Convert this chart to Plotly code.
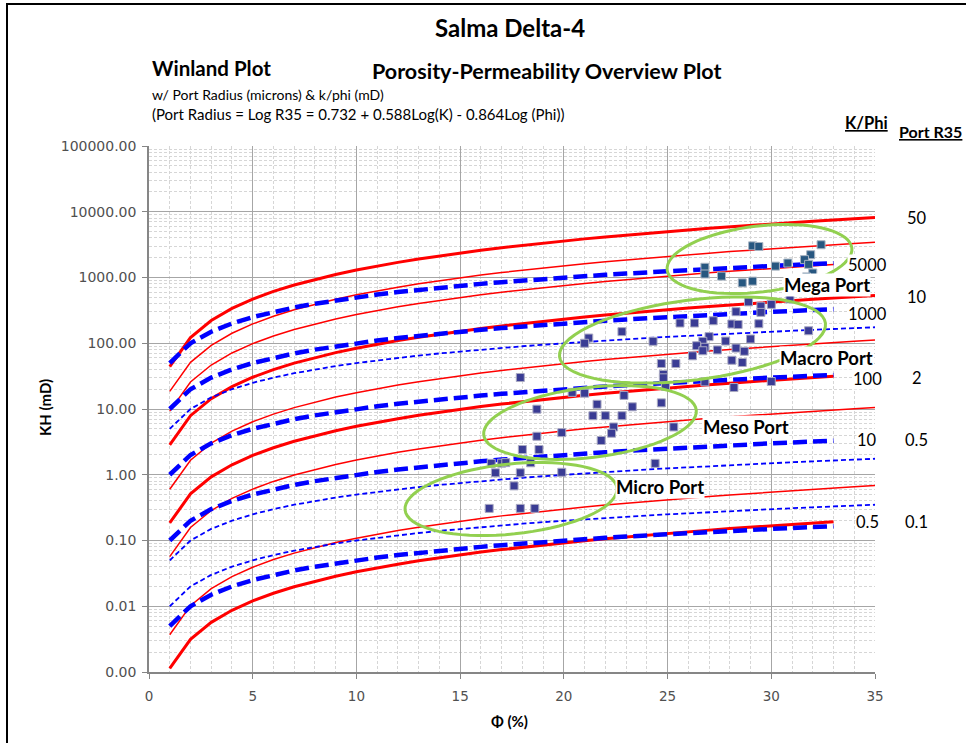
import math
import plotly.graph_objects as go

# ---------------------------------------------------------------------------
# Porosity grid (%) on which the reference lines are evaluated
phi_grid = list(range(1, 36))

# Winland R35 port-radius lines (microns)
r35_values = [50, 30, 20, 10, 4, 2, 1, 0.2, 0.1]
r35_widths = [3, 1.5, 1.5, 3, 1.5, 3, 1.5, 1.5, 3]
r35_phi_max = [35, 35, 33, 35, 35, 33, 35, 35, 33]

# k/phi lines (mD per unit fractional porosity)
kphi_values = [5000, 1000, 500, 100, 10, 5, 1, 0.5]
kphi_thick = [True, True, False, True, True, False, False, True]
kphi_phi_max = [33, 33, 35, 33, 33, 35, 35, 33]

# Core samples - Mega Port group
mega_phi = [29.1, 29.4, 32.4, 31.9, 31.6, 31.8, 30.8, 30.2, 26.8, 26.8,
            27.6, 28.6, 29.1, 32.0, 31.7]
mega_k = [3030, 2960, 3150, 2220, 1870, 1585, 1660, 1490, 1430, 1130,
          1050, 828, 881, 1170, 1020]

# Core samples - remaining plugs
core_phi = [30.9, 28.9, 30.0, 29.5, 29.5, 28.3, 25.6, 26.3, 27.2, 28.1,
            28.4, 29.4, 22.8, 21.2, 21.0, 24.3, 27.0, 26.7, 26.4, 26.8,
            27.8, 29.0, 31.8, 26.7, 27.4, 28.3, 28.7, 26.2, 28.1, 28.6,
            24.7, 25.4, 24.8, 24.8, 24.9, 26.8, 30.0, 28.2, 20.4, 21.0,
            21.6, 22.9, 23.3, 24.7, 21.4, 22.0, 22.8, 22.4, 22.3, 25.3,
            19.9, 21.8, 24.4, 19.9, 17.9, 18.7, 18.7, 18.0, 18.8, 18.4,
            16.5, 17.0, 17.2, 16.7, 17.9, 17.6, 16.4, 17.9, 18.6]
core_k = [472, 426, 390, 366, 295, 302, 203, 203, 220, 196,
          193, 198, 150, 120, 100, 107, 126, 107, 91.6, 86.9,
          108, 116, 155, 76.9, 79.1, 84.5, 75.5, 64.4, 55.1, 51.0,
          49.1, 49.1, 33.6, 29.8, 22.1, 25.9, 26.2, 21.2, 17.9, 17.4,
          11.8, 16.1, 10.8, 12.4, 7.9, 7.9, 7.9, 5.33, 4.28, 5.33,
          4.37, 3.32, 1.49, 1.09, 30.1, 9.93, 3.85, 2.42, 2.42, 1.52,
          1.49, 1.50, 1.53, 1.07, 1.07, 0.677, 0.308, 0.308, 0.308]

# Axis tick labels
x_ticks = [0, 5, 10, 15, 20, 25, 30, 35]
y_ticks = [0.001, 0.01, 0.1, 1, 10, 100, 1000, 10000, 100000]
y_tick_text = ["0.00", "0.01", "0.10", "1.00", "10.00", "100.00",
               "1000.00", "10000.00", "100000.00"]

# Line annotations on the right-hand side
kphi_labels = ["5000", "1000", "100", "10", "0.5"]
r35_labels = ["50", "10", "2", "0.5", "0.1"]
# ---------------------------------------------------------------------------

W_FIG, H_FIG = 966, 743
ML, MR, MT, MB = 149, 91, 146, 71
PW, PH = W_FIG - ML - MR, H_FIG - MT - MB


def px(x):
    return (x - ML) / PW


def py(y):
    return (H_FIG - MB - y) / PH


def winland_k(r35, phi):
    # Log R35 = 0.732 + 0.588 Log(K) - 0.864 Log(Phi)
    return 10 ** ((math.log10(r35) - 0.732 + 0.864 * math.log10(phi)) / 0.588)


TEXT_FONT = "Lato"
TICK_FONT = "DejaVu Sans"

fig = go.Figure()

for v, w, pmax in zip(r35_values, r35_widths, r35_phi_max):
    xs = [p for p in phi_grid if p <= pmax]
    fig.add_trace(go.Scatter(
        x=xs, y=[winland_k(v, p) for p in xs], mode="lines",
        line=dict(color="#ff0000", width=w), hoverinfo="skip",
        name=f"R35 = {v}"))

for v, thick, pmax in zip(kphi_values, kphi_thick, kphi_phi_max):
    xs = [p for p in phi_grid if p <= pmax]
    fig.add_trace(go.Scatter(
        x=xs, y=[v * p / 100 for p in xs], mode="lines",
        line=dict(color="#0000ff", width=4.5 if thick else 1.8,
                  dash="14px,6px" if thick else "5px,3px"),
        hoverinfo="skip", name=f"k/phi = {v}"))

fig.add_trace(go.Scatter(
    x=core_phi, y=core_k, mode="markers", name="Core",
    marker=dict(symbol="square", size=8, color="#3a3c94",
                line=dict(color="#a9a9c2", width=1))))
fig.add_trace(go.Scatter(
    x=mega_phi, y=mega_k, mode="markers", name="Mega",
    marker=dict(symbol="square", size=8, color="#275780",
                line=dict(color="#a9b4c2", width=1))))

shapes = []

# chart frame (left and top edges visible)
shapes.append(dict(type="rect", xref="paper", yref="paper",
                   x0=px(7), x1=px(975), y0=py(752), y1=py(4),
                   line=dict(color="black", width=2), layer="below"))


def ellipse_path(cx, cy, a, b, ang_deg, n=72):
    t = math.radians(ang_deg)
    pts = []
    for i in range(n):
        s = 2 * math.pi * i / n
        ex, ey = a * math.cos(s), b * math.sin(s)
        x = cx + ex * math.cos(t) - ey * math.sin(t)
        y = cy + ex * math.sin(t) + ey * math.cos(t)
        pts.append((px(x), py(y)))
    return "M " + " L ".join(f"{x:.5f},{y:.5f}" for x, y in pts) + " Z"


# rock-type envelopes (centre, semi-axes in pixels, tilt)
for cx, cy, a, b, ang in [(759.5, 259, 93, 33, -6.8),
                          (692.5, 340, 134, 40, -7.2),
                          (590, 422.5, 107, 35, -6.7),
                          (511, 499, 106.5, 35, -5.9)]:
    shapes.append(dict(type="path", xref="paper", yref="paper",
                       path=ellipse_path(cx, cy, a, b, ang),
                       line=dict(color="#92d050", width=3), layer="above"))

ann = []


def text(x, y, s, size, bold=False, color="black", bg=None, xanchor="center",
         underline=False, angle=0, font=TEXT_FONT):
    if bold:
        s = f"<b>{s}</b>"
    if underline:
        s = f"<u>{s}</u>"
    d = dict(x=px(x), y=py(y), xref="paper", yref="paper", text=s,
             showarrow=False, xanchor=xanchor, yanchor="middle",
             font=dict(family=font, size=size, color=color), textangle=angle)
    if bg:
        d.update(bgcolor=bg, borderpad=0)
    ann.append(d)


text(510, 28, "Salma Delta-4", 24, bold=True)
text(150, 68, "Winland Plot", 20.5, bold=True, xanchor="left")
text(370, 71, "Porosity-Permeability Overview Plot", 21.5, bold=True, xanchor="left")
text(150, 94, "w/ Port Radius (microns) &amp; k/phi (mD)", 14, xanchor="left")
text(150, 114, "(Port Radius = Log R35 = 0.732 + 0.588Log(K) - 0.864Log (Phi))",
     15, xanchor="left")
text(866, 123, "K/Phi", 16.5, bold=True, underline=True)
text(931, 131, "Port R35", 16, bold=True, underline=True)

for s, y in zip(kphi_labels, [265, 313.5, 378.5, 440, 521.5]):
    text(867, y, s, 16.5, bg="white")
for s, y in zip(r35_labels, [218, 297, 378, 440, 521.5]):
    text(916.5, y, s, 16.5)

text(826.5, 285, "Mega Port", 18.5, bold=True, bg="white")
text(826, 358.3, "Macro Port", 18.5, bold=True, bg="white")
text(745.5, 426.5, "Meso Port", 18.5, bold=True, bg="white")
text(659.5, 487, "Micro Port", 18.5, bold=True, bg="white")

text(509, 721, "Φ (%)", 15, bold=True)
text(45, 408, "KH (mD)", 15, bold=True, angle=-90)

fig.update_layout(
    width=W_FIG, height=H_FIG,
    margin=dict(l=ML, r=MR, t=MT, b=MB),
    paper_bgcolor="white", plot_bgcolor="white",
    showlegend=False, shapes=shapes, annotations=ann,
    xaxis=dict(range=[0, 35], tickvals=x_ticks, ticks="outside", ticklen=5,
               tickcolor="#868686", showline=True, linecolor="#868686",
               linewidth=1.5, showgrid=True, gridcolor="#a6a6a6", gridwidth=1,
               zeroline=False, ticklabelstandoff=6,
               tickfont=dict(family=TICK_FONT, size=13.5, color="#505050"),
               minor=dict(dtick=1, showgrid=True, gridcolor="#d6d6d6",
                          griddash="3px,2px", gridwidth=1)),
    yaxis=dict(type="log", range=[-3, 5], tickvals=y_ticks, ticktext=y_tick_text,
               ticks="outside", ticklen=5, tickcolor="#868686", showline=True,
               linecolor="#868686", linewidth=1.5, showgrid=True,
               gridcolor="#a6a6a6", gridwidth=1, zeroline=False,
               ticklabelstandoff=3,
               tickfont=dict(family=TICK_FONT, size=14, color="#505050"),
               minor=dict(dtick="D1", showgrid=True, gridcolor="#d6d6d6",
                          griddash="3px,2px", gridwidth=1)),
)

fig.write_html("out.html")
